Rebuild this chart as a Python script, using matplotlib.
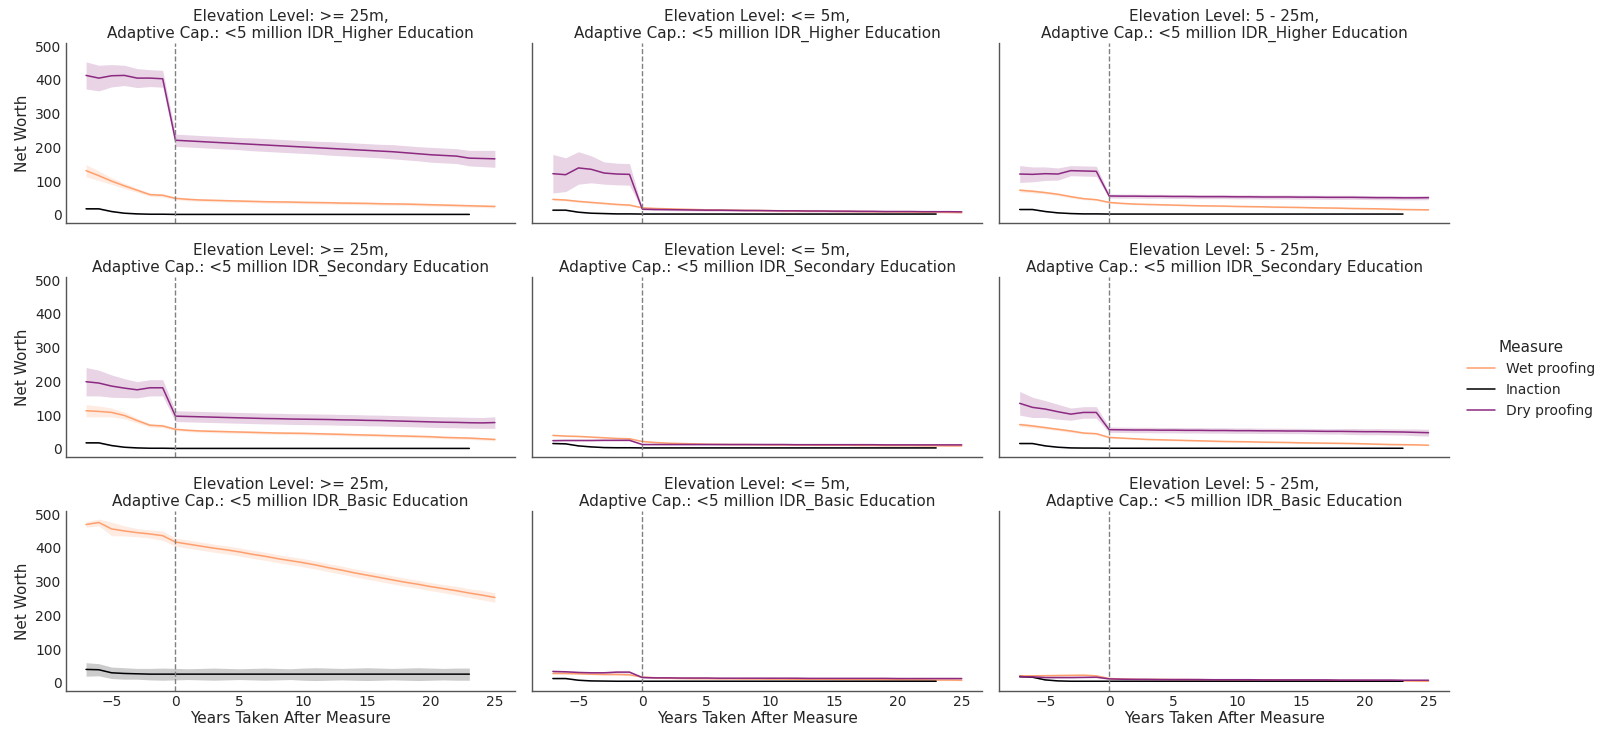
import matplotlib
matplotlib.use("Agg")
import matplotlib.pyplot as plt
import seaborn as sns
from matplotlib.lines import Line2D

sns.set_theme(style="white")
plt.rcParams["font.family"] = ["DejaVu Sans"]

# ---------------- data ----------------
YEARS_WD = [-7, -6, -5, -4, -3, -2, -1, 0, 1, 2, 3, 4, 5, 6, 7, 8, 9, 10, 11, 12,
            13, 14, 15, 16, 17, 18, 19, 20, 21, 22, 23, 24, 25]
YEARS_IN = [-7, -6, -5, -4, -3, -2, -1, 0, 1, 2, 3, 4, 5, 6, 7, 8, 9, 10, 11, 12,
            13, 14, 15, 16, 17, 18, 19, 20, 21, 22, 23]

ELEVATIONS = [">= 25m", "<= 5m", "5 - 25m"]
EDUCATION = ["Higher Education", "Secondary Education", "Basic Education"]
MEASURES = ["Wet proofing", "Inaction", "Dry proofing"]
COLORS = {"Wet proofing": "#fe9f6d", "Inaction": "#000004", "Dry proofing": "#8c2981"}

# Higher education, >= 25m
wet_hi_ge25 = [131, 116, 100, 86, 73, 60, 58, 49, 46, 44, 43, 42, 41, 40, 39, 38.5, 38, 37, 36.5,
               36, 35, 34.5, 34, 33, 32.5, 32, 31, 30, 29, 28, 27, 26, 25]
wet_hi_ge25_ci = [18, 14, 10, 8, 6, 5, 5, 4, 4, 4, 4, 4, 4, 4, 4, 4, 4, 4, 4, 4, 4, 4, 4, 4, 4,
                  4, 4, 4, 4, 4, 4, 4, 4]
ina_hi_ge25 = [18, 18, 10, 5, 3, 2, 2, 1.5, 1.5, 1.5, 1.5, 1.5, 1.5, 1.5, 1.5, 1.5, 1.5, 1.5,
               1.5, 1.5, 1.5, 1.5, 1.5, 1.5, 1.5, 1.5, 1.5, 1.5, 1.5, 1.5, 1.5]
ina_hi_ge25_ci = [2, 2, 1.5, 1, 1, 1, 1, 1, 1, 1, 1, 1, 1, 1, 1, 1, 1, 1, 1, 1, 1, 1, 1, 1, 1,
                  1, 1, 1, 1, 1, 1]
dry_hi_ge25 = [413, 405, 412, 413, 405, 405, 403, 221, 219, 217, 215, 213, 211, 209, 207, 205,
               203, 201, 199, 197, 195, 193, 191, 189, 187, 184, 181, 178, 176, 174, 168, 167, 166]
dry_hi_ge25_ci = [40, 38, 33, 30, 28, 25, 25, 18, 18, 18, 18, 18, 18, 19, 19, 19, 19, 19, 19,
                  20, 20, 20, 20, 20, 21, 21, 21, 22, 22, 22, 23, 24, 25]

# Higher education, <= 5m
wet_hi_le5 = [46, 44, 40, 37, 34, 31, 29, 21, 19, 18, 17, 16, 15, 14.5, 14, 13.5, 13, 12.5, 12,
              11.5, 11, 11, 10.5, 10, 10, 9.5, 9, 9, 8.5, 8, 8, 7.5, 7]
wet_hi_le5_ci = [3, 3, 3, 3, 3, 3, 3, 2, 2, 2, 2, 2, 2, 2, 2, 2, 2, 2, 2, 2, 2, 2, 2, 2, 2, 2, 2,
                 2, 2, 2, 2, 2, 2]
ina_hi_le5 = [14, 14, 8, 5, 4, 3, 3, 2.5, 2.5, 2.5, 2.5, 2.5, 2.5, 2.5, 2.5, 2.5, 2.5, 2.5, 2.5,
              2.5, 2.5, 2.5, 2.5, 2.5, 2.5, 2.5, 2.5, 2.5, 2.5, 2.5, 2.5]
ina_hi_le5_ci = [1.5, 1.5, 1, 1, 1, 1, 1, 1, 1, 1, 1, 1, 1, 1, 1, 1, 1, 1, 1, 1, 1, 1, 1, 1, 1,
                 1, 1, 1, 1, 1, 1]
dry_hi_le5 = [122, 119, 139, 135, 124, 121, 120, 17, 16, 15.5, 15, 14.5, 14, 14, 13.5, 13, 13,
              12.5, 12, 12, 11.5, 11.5, 11, 11, 10.5, 10.5, 10, 10, 10, 9.5, 9.5, 9.5, 9]
dry_hi_le5_ci = [57, 50, 48, 40, 33, 32, 32, 3, 3, 3, 3, 3, 3, 3, 3, 3, 3, 3, 3, 3, 3, 3, 3, 3,
                 3, 3, 3, 3, 3, 3, 3, 3, 3]

# Higher education, 5 - 25m
wet_hi_mid = [73, 70, 66, 61, 54, 48, 45, 37, 34, 32, 31, 30, 29, 28, 27, 26.5, 26, 25, 24.5, 24,
              23, 22.5, 22, 21, 20.5, 20, 19, 18.5, 18, 17, 16, 15.5, 15]
wet_hi_mid_ci = [5, 5, 4, 4, 4, 3, 3, 3, 2, 2, 2, 2, 2, 2, 2, 2, 2, 2, 2, 2, 2, 2, 2, 2, 2, 2, 2,
                 2, 2, 2, 2, 2, 2]
ina_hi_mid = [16, 16, 10, 6, 4, 3, 3, 2.5, 2.5, 2.5, 2.5, 2.5, 2.5, 2.5, 2.5, 2.5, 2.5, 2.5, 2.5,
              2.5, 2.5, 2.5, 2.5, 2.5, 2.5, 2.5, 2.5, 2.5, 2.5, 2.5, 2.5]
ina_hi_mid_ci = [1.5, 1.5, 1, 1, 1, 1, 1, 1, 1, 1, 1, 1, 1, 1, 1, 1, 1, 1, 1, 1, 1, 1, 1, 1, 1,
                 1, 1, 1, 1, 1, 1]
dry_hi_mid = [121, 120, 122, 121, 131, 130, 129, 56, 55.5, 55.5, 55, 55, 54.5, 54.5, 54, 54, 54,
              53.5, 53.5, 53, 53, 53, 52.5, 52.5, 52, 52, 52, 51.5, 51, 51, 50.5, 50.5, 51]
dry_hi_mid_ci = [25, 22, 20, 18, 15, 15, 15, 6, 6, 6, 6, 6, 6, 6, 6, 6, 6, 6, 6, 6, 6, 6, 6, 6,
                 6, 6, 6, 6, 6, 6, 6, 6, 6]

# Secondary education, >= 25m
wet_se_ge25 = [113, 111, 108, 99, 84, 70, 68, 58, 55, 53, 52, 51, 50, 49, 48, 47, 46.5, 46, 45,
               44, 43, 42, 41, 40, 39, 38, 37, 36, 34, 33, 32, 30, 28]
wet_se_ge25_ci = [18, 16, 13, 10, 7, 5, 5, 4, 4, 4, 4, 4, 4, 4, 4, 4, 4, 4, 4, 4, 4, 4, 4, 4, 4,
                  4, 4, 4, 4, 4, 4, 4, 4]
ina_se_ge25 = [18, 18, 10, 5, 3, 2, 2, 1.5, 1.5, 1.5, 1.5, 1.5, 1.5, 1.5, 1.5, 1.5, 1.5, 1.5,
               1.5, 1.5, 1.5, 1.5, 1.5, 1.5, 1.5, 1.5, 1.5, 1.5, 1.5, 1.5, 1.5]
ina_se_ge25_ci = [2, 2, 1.5, 1, 1, 1, 1, 1, 1, 1, 1, 1, 1, 1, 1, 1, 1, 1, 1, 1, 1, 1, 1, 1, 1,
                  1, 1, 1, 1, 1, 1]
dry_se_ge25 = [199, 195, 186, 180, 175, 181, 181, 97, 96, 95, 94, 93, 92, 91, 90, 89.5, 88.5, 88,
               87.5, 87, 86, 85.5, 84.5, 84, 83, 82, 81, 80, 79, 78.5, 77.5, 77, 78]
dry_se_ge25_ci = [42, 38, 33, 28, 24, 24, 24, 16, 16, 16, 16, 16, 16, 16, 16, 16, 16, 16, 16,
                  16, 16, 16, 16, 16, 16, 16, 16, 16, 16, 16, 16, 16, 17]

# Secondary education, <= 5m
wet_se_le5 = [40, 38, 37, 35, 33, 31, 30, 22, 19, 17, 16, 15, 14, 13.5, 13, 13, 12.5, 12, 12,
              11.5, 11.5, 11, 11, 11, 10.5, 10.5, 10, 10, 10, 9.5, 9.5, 9, 9]
wet_se_le5_ci = [2, 2, 2, 2, 2, 2, 2, 1.5, 1.5, 1.5, 1.5, 1.5, 1.5, 1.5, 1.5, 1.5, 1.5, 1.5, 1.5,
                 1.5, 1.5, 1.5, 1.5, 1.5, 1.5, 1.5, 1.5, 1.5, 1.5, 1.5, 1.5, 1.5, 1.5]
ina_se_le5 = [16, 15, 9, 6, 4, 3.5, 3.5, 3, 3, 3, 3, 3, 3, 3, 3, 3, 3, 3, 3, 3, 3, 3, 3, 3, 3,
              3, 3, 3, 3, 3, 3]
ina_se_le5_ci = [1, 1, 1, 1, 1, 1, 1, 1, 1, 1, 1, 1, 1, 1, 1, 1, 1, 1, 1, 1, 1, 1, 1, 1, 1, 1,
                 1, 1, 1, 1, 1]
dry_se_le5 = [24.5, 25, 25, 25, 25.5, 25.5, 25.5, 13, 13, 13, 13, 13, 13, 13, 13, 13, 13, 13, 13,
              12.5, 12.5, 12.5, 12.5, 12.5, 12.5, 12.5, 12, 12, 12, 12, 12, 12, 12]
dry_se_le5_ci = [2, 2, 2, 2, 2, 2, 2, 1.5, 1.5, 1.5, 1.5, 1.5, 1.5, 1.5, 1.5, 1.5, 1.5, 1.5, 1.5,
                 1.5, 1.5, 1.5, 1.5, 1.5, 1.5, 1.5, 1.5, 1.5, 1.5, 1.5, 1.5, 1.5, 1.5]

# Secondary education, 5 - 25m
wet_se_mid = [72, 68, 63, 58, 53, 47, 45, 34, 32, 30, 28, 27, 26, 25, 24, 23, 22, 21.5, 21, 20,
              19.5, 19, 18, 17.5, 17, 16.5, 16, 15, 14, 13, 12.5, 12, 11]
wet_se_mid_ci = [5, 5, 4, 4, 4, 3, 3, 3, 2, 2, 2, 2, 2, 2, 2, 2, 2, 2, 2, 2, 2, 2, 2, 2, 2, 2, 2,
                 2, 2, 2, 2, 2, 2]
ina_se_mid = [16, 16, 9, 5, 3, 2.5, 2.5, 2, 2, 2, 2, 2, 2, 2, 2, 2, 2, 2, 2, 2, 2, 2, 2, 2, 2, 2,
              2, 2, 2, 2, 2]
ina_se_mid_ci = [1.5, 1.5, 1, 1, 1, 1, 1, 1, 1, 1, 1, 1, 1, 1, 1, 1, 1, 1, 1, 1, 1, 1, 1, 1, 1,
                 1, 1, 1, 1, 1, 1]
dry_se_mid = [135, 123, 118, 110, 103, 108, 108, 57, 56.5, 56, 56, 55.5, 55.5, 55, 55, 54.5, 54.5,
              54, 54, 53.5, 53.5, 53, 53, 52.5, 52, 52, 51.5, 51, 51, 50.5, 50, 49, 48]
dry_se_mid_ci = [35, 30, 25, 22, 18, 17, 17, 8, 8, 8, 8, 8, 8, 8, 8, 8, 8, 8, 8, 8, 8, 8, 8, 8,
                 8, 8, 9, 9, 9, 9, 9, 10, 10]

# Basic education, >= 25m (no dry proofing)
wet_ba_ge25 = [469, 475, 456, 450, 445, 441, 436, 417, 411, 405, 399, 394, 388, 381, 375, 368,
               362, 356, 349, 341, 334, 326, 319, 312, 305, 298, 292, 285, 279, 273, 266, 260, 253]
wet_ba_ge25_ci = [8, 10, 20, 15, 12, 12, 14, 12, 12, 12, 12, 12, 12, 12, 12, 12, 12, 12, 12, 12,
                  12, 12, 12, 12, 12, 12, 12, 12, 12, 13, 13, 14, 14]
ina_ba_ge25 = [40, 39, 30, 28, 27, 26, 26, 26, 26, 26, 26, 26, 26, 26, 26, 26, 26, 26, 26, 26,
               26, 26, 26, 26, 26, 26, 26, 26, 26, 26, 26]
ina_ba_ge25_ci = [20, 18, 17, 17, 16, 17, 18, 17, 16, 17, 18, 17, 16, 17, 18, 17, 16, 18, 19, 18,
                  17, 18, 19, 18, 17, 18, 19, 18, 17, 18, 18]

# Basic education, <= 5m
wet_ba_le5 = [28, 28, 27, 26, 25, 25, 24, 17.5, 15, 14, 13.5, 13, 13, 12.5, 12.5, 12, 12, 11.5,
              11.5, 11, 11, 11, 10.5, 10.5, 10, 10, 9.5, 9.5, 9, 9, 8.5, 8.5, 8]
wet_ba_le5_ci = [2, 2, 2, 2, 2, 2, 2, 1.5, 1.5, 1.5, 1.5, 1.5, 1.5, 1.5, 1.5, 1.5, 1.5, 1.5, 1.5,
                 1.5, 1.5, 1.5, 1.5, 1.5, 1.5, 1.5, 1.5, 1.5, 1.5, 1.5, 1.5, 1.5, 1.5]
ina_ba_le5 = [13, 13, 8, 6, 5.5, 5, 5, 5, 5, 5, 5, 5, 5, 5, 5, 5, 5, 5, 5, 5, 5, 5, 5, 5, 5, 5,
              5, 5, 5, 5, 5]
ina_ba_le5_ci = [1, 1, 1, 1, 1, 1, 1, 1, 1, 1, 1, 1, 1, 1, 1, 1, 1, 1, 1, 1, 1, 1, 1, 1, 1, 1, 1,
                 1, 1, 1, 1]
dry_ba_le5 = [34, 33, 31, 30, 30, 32, 32, 16, 15, 15, 14.5, 14.5, 14.5, 14, 14, 14, 14, 14, 14,
              14, 13.5, 13.5, 13.5, 13.5, 13.5, 13.5, 13.5, 13, 13, 13, 13, 13, 13]
dry_ba_le5_ci = [3, 3, 3, 3, 3, 3, 3, 2, 2, 2, 2, 2, 2, 2, 2, 2, 2, 2, 2, 2, 2, 2, 2, 2, 2, 2, 2,
                 2, 2, 2, 2, 2, 2]

# Basic education, 5 - 25m
wet_ba_mid = [21, 21, 21.5, 22, 22.5, 23, 21, 13, 11.5, 11, 10.5, 10.5, 10, 10, 9.5, 9.5, 9, 9,
              8.5, 8.5, 8, 8, 7.5, 7.5, 7, 7, 7, 6.5, 6.5, 6, 6, 5.5, 5]
wet_ba_mid_ci = [2, 2, 2, 2, 2, 2, 2, 1.5, 1.5, 1.5, 1.5, 1.5, 1.5, 1.5, 1.5, 1.5, 1.5, 1.5, 1.5,
                 1.5, 1.5, 1.5, 1.5, 1.5, 1.5, 1.5, 1.5, 1.5, 1.5, 1.5, 1.5, 1.5, 1.5]
ina_ba_mid = [19, 17, 9, 6, 5, 5, 5, 5, 5, 5, 5, 5, 5, 5, 5, 5, 5, 5, 5, 5, 5, 5, 5, 5, 5, 5, 5,
              5, 5, 5, 5]
ina_ba_mid_ci = [1, 1, 1, 1, 1, 1, 1, 1, 1, 1, 1, 1, 1, 1, 1, 1, 1, 1, 1, 1, 1, 1, 1, 1, 1, 1, 1,
                 1, 1, 1, 1]
dry_ba_mid = [18, 18, 16, 16, 16, 16.5, 17, 12, 11, 10.5, 10.5, 10, 10, 10, 10, 9.5, 9.5, 9.5,
              9.5, 9, 9, 9, 9, 9, 9, 8.5, 8.5, 8.5, 8.5, 8.5, 8, 8, 8]
dry_ba_mid_ci = [2, 2, 2, 2, 2, 2, 2, 1.5, 1.5, 1.5, 1.5, 1.5, 1.5, 1.5, 1.5, 1.5, 1.5, 1.5, 1.5,
                 1.5, 1.5, 1.5, 1.5, 1.5, 1.5, 1.5, 1.5, 1.5, 1.5, 1.5, 1.5, 1.5, 1.5]

PANELS = {
    ("Higher Education", ">= 25m"): {"Wet proofing": (wet_hi_ge25, wet_hi_ge25_ci),
                                     "Inaction": (ina_hi_ge25, ina_hi_ge25_ci),
                                     "Dry proofing": (dry_hi_ge25, dry_hi_ge25_ci)},
    ("Higher Education", "<= 5m"): {"Wet proofing": (wet_hi_le5, wet_hi_le5_ci),
                                    "Inaction": (ina_hi_le5, ina_hi_le5_ci),
                                    "Dry proofing": (dry_hi_le5, dry_hi_le5_ci)},
    ("Higher Education", "5 - 25m"): {"Wet proofing": (wet_hi_mid, wet_hi_mid_ci),
                                      "Inaction": (ina_hi_mid, ina_hi_mid_ci),
                                      "Dry proofing": (dry_hi_mid, dry_hi_mid_ci)},
    ("Secondary Education", ">= 25m"): {"Wet proofing": (wet_se_ge25, wet_se_ge25_ci),
                                        "Inaction": (ina_se_ge25, ina_se_ge25_ci),
                                        "Dry proofing": (dry_se_ge25, dry_se_ge25_ci)},
    ("Secondary Education", "<= 5m"): {"Wet proofing": (wet_se_le5, wet_se_le5_ci),
                                       "Inaction": (ina_se_le5, ina_se_le5_ci),
                                       "Dry proofing": (dry_se_le5, dry_se_le5_ci)},
    ("Secondary Education", "5 - 25m"): {"Wet proofing": (wet_se_mid, wet_se_mid_ci),
                                         "Inaction": (ina_se_mid, ina_se_mid_ci),
                                         "Dry proofing": (dry_se_mid, dry_se_mid_ci)},
    ("Basic Education", ">= 25m"): {"Wet proofing": (wet_ba_ge25, wet_ba_ge25_ci),
                                    "Inaction": (ina_ba_ge25, ina_ba_ge25_ci)},
    ("Basic Education", "<= 5m"): {"Wet proofing": (wet_ba_le5, wet_ba_le5_ci),
                                   "Inaction": (ina_ba_le5, ina_ba_le5_ci),
                                   "Dry proofing": (dry_ba_le5, dry_ba_le5_ci)},
    ("Basic Education", "5 - 25m"): {"Wet proofing": (wet_ba_mid, wet_ba_mid_ci),
                                     "Inaction": (ina_ba_mid, ina_ba_mid_ci),
                                     "Dry proofing": (dry_ba_mid, dry_ba_mid_ci)},
}

# ---------------- plot ----------------
TXT = "#262626"
fig, axes = plt.subplots(3, 3, figsize=(16, 7.36), dpi=100, sharex=True, sharey=True)
fig.subplots_adjust(left=0.041, right=0.9056, top=0.9416, bottom=0.0611,
                    wspace=0.038, hspace=0.30)

for r, edu in enumerate(EDUCATION):
    for c, elev in enumerate(ELEVATIONS):
        ax = axes[r, c]
        series = PANELS[(edu, elev)]
        for m in MEASURES:
            if m not in series:
                continue
            vals, ci = series[m]
            xs = YEARS_IN if m == "Inaction" else YEARS_WD
            lo = [v - e for v, e in zip(vals, ci)]
            hi = [v + e for v, e in zip(vals, ci)]
            ax.fill_between(xs, lo, hi, color=COLORS[m], alpha=0.2, linewidth=0)
            ax.plot(xs, vals, color=COLORS[m], linewidth=1.1)
        ax.axvline(0, color="#808080", linestyle="--", linewidth=1.0)
        ax.set_title(f"Elevation Level: {elev},\nAdaptive Cap.: <5 million IDR_{edu}",
                     fontsize=11, color=TXT, pad=4, linespacing=1.1)
        for s in ("top", "right"):
            ax.spines[s].set_visible(False)
        for s in ("left", "bottom"):
            ax.spines[s].set_color("#555555")
            ax.spines[s].set_linewidth(1.0)
        ax.tick_params(axis="both", labelsize=10, colors=TXT, length=0, pad=3)
        if c == 0:
            ax.set_ylabel("Net Worth", fontsize=11, color=TXT)
        if r == 2:
            ax.set_xlabel("Years Taken After Measure", fontsize=11, color=TXT, labelpad=1)

axes[0, 0].set_ylim(-24, 509)
axes[0, 0].set_yticks([0, 100, 200, 300, 400, 500])
axes[0, 0].set_xlim(-8.6, 26.6)
axes[0, 0].set_xticks([-5, 0, 5, 10, 15, 20, 25])

handles = [Line2D([0], [0], color=COLORS[m], linewidth=1.1) for m in MEASURES]
leg = fig.legend(handles, MEASURES, title="Measure", loc="center left",
                 bbox_to_anchor=(0.909, 0.485), frameon=False, fontsize=10,
                 title_fontsize=11, handlelength=2.0, handletextpad=0.8,
                 labelspacing=0.5)
for t in leg.get_texts():
    t.set_color(TXT)
leg.get_title().set_color(TXT)

fig.savefig("out.png", dpi=100)
